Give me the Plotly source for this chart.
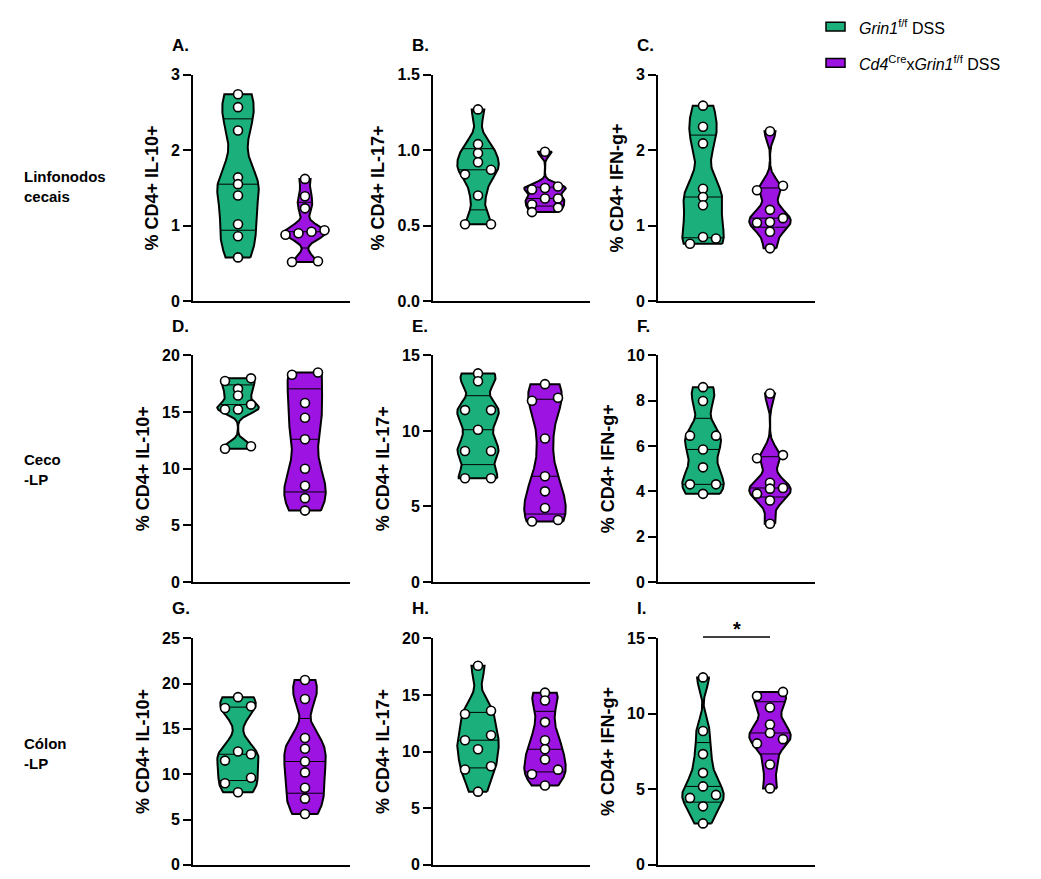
import numpy as np
import plotly.graph_objects as go

# ---------------- data ----------------
GROUP_NAMES = ["<i>Grin1</i><sup>f/f</sup> DSS",
               "<i>Cd4</i><sup>Cre</sup>x<i>Grin1</i><sup>f/f</sup> DSS"]
GROUP_COLORS = ["#1BB07B", "#9C13E2"]

PANEL_LETTERS = ["A.", "B.", "C.", "D.", "E.", "F.", "G.", "H.", "I."]
Y_TITLES = ["% CD4+ IL-10+", "% CD4+ IL-17+", "% CD4+ IFN-g+"] * 3
Y_MAX = [3, 1.5, 3, 20, 15, 10, 25, 20, 15]
Y_DTICK = [1, 0.5, 1, 5, 5, 2, 5, 5, 5]
Y_TICKFORMAT = ["d", ".1f", "d", "d", "d", "d", "d", "d", "d"]
ROW_LABELS = ["Linfonodos<br>cecais", "Ceco<br>-LP", "Cólon<br>-LP"]

A_GRIN1 = [2.74, 2.57, 2.26, 1.64, 1.55, 1.40, 1.02, 0.86, 0.58]
A_CD4CRE = [1.62, 1.39, 1.23, 0.94, 0.92, 0.90, 0.88, 0.53, 0.52]
B_GRIN1 = [1.27, 1.04, 0.98, 0.92, 0.87, 0.84, 0.70, 0.51, 0.51]
B_CD4CRE = [0.99, 0.76, 0.75, 0.74, 0.68, 0.68, 0.64, 0.62, 0.59]
C_GRIN1 = [2.59, 2.31, 2.09, 1.49, 1.38, 1.27, 0.85, 0.83, 0.76]
C_CD4CRE = [2.25, 1.53, 1.47, 1.21, 1.10, 1.05, 1.04, 0.92, 0.70]
D_GRIN1 = [17.98, 17.75, 17.05, 16.47, 15.66, 15.23, 15.23, 11.99, 11.76]
D_CD4CRE = [18.5, 18.3, 15.8, 14.5, 12.6, 10.0, 8.5, 7.4, 6.3]
E_GRIN1 = [13.81, 13.29, 11.38, 11.38, 10.08, 8.67, 8.67, 6.87, 6.87]
E_CD4CRE = [13.1, 12.2, 12.0, 9.5, 7.0, 6.0, 4.9, 4.1, 4.0]
F_GRIN1 = [8.60, 7.99, 6.46, 6.46, 5.85, 5.06, 4.31, 4.31, 3.89]
F_CD4CRE = [8.32, 5.60, 5.46, 4.38, 4.15, 4.12, 3.90, 3.60, 2.57]
G_GRIN1 = [18.5, 17.5, 17.3, 12.5, 12.2, 11.5, 9.6, 9.0, 8.0]
G_CD4CRE = [20.4, 18.3, 14.0, 12.8, 11.4, 10.2, 8.5, 7.3, 5.6]
H_GRIN1 = [17.58, 13.6, 13.31, 11.44, 11.0, 10.2, 8.70, 8.41, 6.46]
H_CD4CRE = [15.2, 14.5, 12.6, 11.0, 10.2, 9.3, 8.4, 8.0, 7.0]
I_GRIN1 = [12.41, 8.86, 7.33, 6.09, 5.19, 4.63, 4.43, 3.87, 2.74]
I_CD4CRE = [11.45, 11.17, 10.42, 9.29, 8.73, 8.32, 8.04, 6.64, 5.06]

PANEL_DATA = [
    (A_GRIN1, A_CD4CRE), (B_GRIN1, B_CD4CRE), (C_GRIN1, C_CD4CRE),
    (D_GRIN1, D_CD4CRE), (E_GRIN1, E_CD4CRE), (F_GRIN1, F_CD4CRE),
    (G_GRIN1, G_CD4CRE), (H_GRIN1, H_CD4CRE), (I_GRIN1, I_CD4CRE),
]
SIG_PANEL = 8
SIG_TEXT = "*"
SIG_LEVEL = 15.08  # y (data units of panel I) of the bracket

# ---------------- geometry / style ----------------
W, H = 1041, 879
COL_LEFT_PX = [193, 433, 658]
PLOT_W_PX = 157
ROW_TOP_PX = [68, 354.3, 642.7]
PLOT_H_PX = 231
X_RANGE = [-0.672, 1.672]
HALF_W = 0.31
BW_FACTOR = 0.6
FONT = "Arial, Liberation Sans, sans-serif"


def kde(vals, grid):
    v = np.asarray(vals, float)
    n = len(v)
    sd = v.std(ddof=1)
    iqr = np.subtract(*np.percentile(v, [75, 25]))
    h = 0.9 * min(sd, iqr / 1.34) * n ** (-0.2) * BW_FACTOR
    return np.exp(-0.5 * ((grid[:, None] - v[None, :]) / h) ** 2).sum(1)


def swarm_offsets(vals, px_per_y, step_px=13.0, bin_px=6.5):
    v = np.asarray(vals, float)
    order = np.argsort(v)
    offs = np.zeros(len(v))
    bins, cur = [], [order[0]]
    for idx in order[1:]:
        if (v[idx] - v[cur[0]]) * px_per_y < bin_px:
            cur.append(idx)
        else:
            bins.append(cur)
            cur = [idx]
    bins.append(cur)
    for b in bins:
        n = len(b)
        if n == 2:
            pos = [-1, 1]
        else:
            pos = [i - (n - 1) / 2 for i in range(n)]
        for i, idx in enumerate(b):
            offs[idx] = pos[i] * step_px
    return offs


fig = go.Figure()
px_per_x = PLOT_W_PX / (X_RANGE[1] - X_RANGE[0])

domains = []
for p in range(9):
    r, c = divmod(p, 3)
    x0 = COL_LEFT_PX[c] / W
    x1 = (COL_LEFT_PX[c] + PLOT_W_PX) / W
    y1 = 1 - ROW_TOP_PX[r] / H
    y0 = 1 - (ROW_TOP_PX[r] + PLOT_H_PX) / H
    domains.append((x0, x1, y0, y1))

layout_axes = {}
annotations = []
shapes = []

for p in range(9):
    x0, x1, y0, y1 = domains[p]
    sfx = "" if p == 0 else str(p + 1)
    xa, ya = "x" + sfx, "y" + sfx
    ymax = Y_MAX[p]
    px_per_y = PLOT_H_PX / ymax
    for g, vals in enumerate(PANEL_DATA[p]):
        v = np.asarray(vals, float)
        grid = np.linspace(v.min(), v.max(), 200)
        dens = kde(v, grid)
        scale = HALF_W / dens.max()
        w = dens * scale
        xs = np.concatenate([g + w, (g - w)[::-1], [g + w[0]]])
        ys = np.concatenate([grid, grid[::-1], [grid[0]]])
        fig.add_trace(go.Scatter(x=xs, y=ys, xaxis=xa, yaxis=ya, mode="lines",
                                 fill="toself", fillcolor=GROUP_COLORS[g],
                                 line=dict(color="black", width=2),
                                 hoverinfo="skip", showlegend=False))
        qs = np.percentile(v, [25, 50, 75], method="weibull")
        for q in qs:
            wq = kde(v, np.array([q]))[0] * scale
            fig.add_trace(go.Scatter(x=[g - wq, g + wq], y=[q, q], xaxis=xa, yaxis=ya,
                                     mode="lines", line=dict(color="black", width=1),
                                     hoverinfo="skip", showlegend=False))
        offs = swarm_offsets(v, px_per_y) / px_per_x
        fig.add_trace(go.Scatter(x=g + offs, y=v, xaxis=xa, yaxis=ya, mode="markers",
                                 marker=dict(size=9, color="white",
                                             line=dict(color="black", width=1.6)),
                                 cliponaxis=False, hoverinfo="y", showlegend=False))

    layout_axes["xaxis" + sfx] = dict(domain=[x0, x1], range=X_RANGE, anchor=ya,
                                      showline=True, linewidth=2, linecolor="black",
                                      showgrid=False, zeroline=False, ticks="",
                                      showticklabels=False, fixedrange=True)
    layout_axes["yaxis" + sfx] = dict(domain=[y0, y1], range=[0, ymax], anchor=xa,
                                      dtick=Y_DTICK[p], tick0=0, tickformat=Y_TICKFORMAT[p],
                                      showline=True, linewidth=2, linecolor="black",
                                      ticks="outside", ticklen=8, tickwidth=2, tickcolor="black",
                                      showgrid=False, zeroline=False,
                                      tickfont=dict(family=FONT, size=16, color="black", weight=700),
                                      title=dict(text=Y_TITLES[p], standoff=8,
                                                 font=dict(family=FONT, size=18, color="black", weight=700)),
                                      fixedrange=True)
    # panel letter
    annotations.append(dict(text=PANEL_LETTERS[p], xref="paper", yref="paper",
                            x=x0 - 23 / W, y=y1 + 30 / H, xanchor="left", yanchor="middle",
                            showarrow=False,
                            font=dict(family=FONT, size=17, color="black", weight=700)))


def to_paper(p, xv, yv):
    x0, x1, y0, y1 = domains[p]
    xp = x0 + (xv - X_RANGE[0]) / (X_RANGE[1] - X_RANGE[0]) * (x1 - x0)
    yp = y0 + yv / Y_MAX[p] * (y1 - y0)
    return xp, yp

# significance bracket in panel I
xa_p, ya_p = to_paper(SIG_PANEL, 0, SIG_LEVEL)
xb_p, _ = to_paper(SIG_PANEL, 1, SIG_LEVEL)
shapes.append(dict(type="line", xref="paper", yref="paper", x0=xa_p, x1=xb_p,
                   y0=ya_p, y1=ya_p, line=dict(color="black", width=1.5)))
annotations.append(dict(text=SIG_TEXT, xref="paper", yref="paper", x=(xa_p + xb_p) / 2,
                        y=ya_p + 8 / H, yanchor="middle", xanchor="center", showarrow=False,
                        font=dict(family=FONT, size=20, color="black", weight=700)))

# row labels
ROW_LABEL_X = [22, 22, 22]
ROW_LABEL_Y_PX = [182, 471, 760]
for r in range(3):
    annotations.append(dict(text=ROW_LABELS[r], xref="paper", yref="paper",
                            x=ROW_LABEL_X[r] / W, y=1 - ROW_LABEL_Y_PX[r] / H,
                            xanchor="left", yanchor="middle",
                            align="left", showarrow=False,
                            font=dict(family=FONT, size=15, color="black", weight=700)))

# legend
LEG_Y_PX = [19, 56]
for g in range(2):
    yc = 1 - LEG_Y_PX[g] / H
    shapes.append(dict(type="rect", xref="paper", yref="paper",
                       x0=826 / W, x1=845 / W, y0=yc - 4.5 / H, y1=yc + 4.5 / H,
                       fillcolor=GROUP_COLORS[g], line=dict(color="black", width=1.5)))
    annotations.append(dict(text=GROUP_NAMES[g], xref="paper", yref="paper",
                            x=857 / W, y=yc, xanchor="left", yanchor="middle", showarrow=False,
                            font=dict(family=FONT, size=16, color="black")))

fig.update_layout(width=W, height=H, margin=dict(l=0, r=0, t=0, b=0),
                  plot_bgcolor="white", paper_bgcolor="white", showlegend=False,
                  annotations=annotations, shapes=shapes, **layout_axes)

fig.write_html("out.html")
